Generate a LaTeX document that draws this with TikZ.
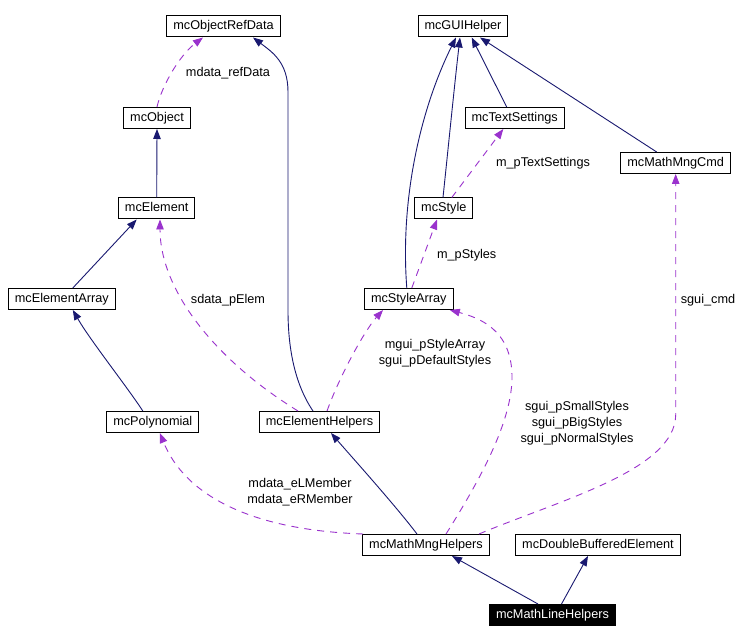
\documentclass[tikz,border=0pt]{standalone}
\usepackage{fontspec}
\setmainfont{Liberation Sans}
\usetikzlibrary{arrows.meta}
\definecolor{inh}{HTML}{191970}
\definecolor{use}{HTML}{9A32CD}
\begin{document}
\begin{tikzpicture}[x=1pt,y=-1pt,
  font=\fontsize{12.7}{16}\selectfont,
  cls/.style={draw=black,line width=1pt,fill=white,inner xsep=6.5pt,inner ysep=0pt,minimum height=21pt,text height=9.5pt,text depth=2.5pt},
  inhedge/.style={draw=inh,line width=0.9pt,-{Triangle[length=10pt,width=7.5pt]}},
  useedge/.style={draw=use,line width=0.9pt,dash pattern=on 7pt off 6pt,-{Triangle[length=10pt,width=7.5pt]}},
  lbl/.style={inner sep=0pt,align=center}]
\useasboundingbox (0,0) rectangle (748,644);
\fill[white] (0,0) rectangle (748,644);
% nodes
\node[cls] (ord) at (223.5,26.5) {mcObjectRefData};
\node[cls] (obj) at (157,118) {mcObject};
\node[cls] (elem) at (156.7,208.5) {mcElement};
\node[cls] (gui) at (463,26.5) {mcGUIHelper};
\node[cls] (ts) at (514.7,118) {mcTextSettings};
\node[cls] (cmd) at (675.7,163) {mcMathMngCmd};
\node[cls] (sty) at (443.8,208.5) {mcStyle};
\node[cls] (ea) at (61.8,299) {mcElementArray};
\node[cls] (poly) at (152.8,422) {mcPolynomial};
\node[cls] (eh) at (319.5,422) {mcElementHelpers};
\node[cls] (sa) at (408.8,299) {mcStyleArray};
\node[cls] (mmh) at (426,545) {mcMathMngHelpers};
\node[cls] (dbe) at (598,545) {mcDoubleBufferedElement};
\node[cls,fill=black,text=white] (mlh) at (552.5,615) {mcMathLineHelpers};
% inheritance edges
\draw[inhedge] (elem.north) -- (obj.south);
\draw[inhedge] ([xshift=11pt]ea.north) -- ([xshift=-20pt]elem.south);
\draw[inhedge] ([xshift=-10pt]poly.north) .. controls (128,388) and (90,340) .. ([xshift=11pt]ea.south);
\draw[inhedge] ([xshift=-6.5pt]eh.north) .. controls (292,380) and (288,340) .. (288,310) -- (288,92) .. controls (288,62) and (272,52) .. ([xshift=29.5pt]ord.south);
\draw[inhedge] ([xshift=-2pt]sa.north) .. controls (400,200) and (420,110) .. ([xshift=-7pt]gui.south);
\draw[inhedge] ([xshift=-0.8pt]sty.north) .. controls (448,150) and (455,80) .. ([xshift=-3pt]gui.south);
\draw[inhedge] ([xshift=-8pt]ts.north) -- ([xshift=8.7pt]gui.south);
\draw[inhedge] ([xshift=-19pt]cmd.north) -- ([xshift=17pt]gui.south);
\draw[inhedge] ([xshift=-9pt]mmh.north) .. controls (395,505) and (350,455) .. ([xshift=11.5pt]eh.south);
\draw[inhedge] ([xshift=-14.5pt]mlh.north) -- ([xshift=26pt]mmh.south);
\draw[inhedge] ([xshift=9pt]mlh.north) -- ([xshift=-10pt]dbe.south);
% usage edges
\draw[useedge] (obj.north) .. controls (162,85) and (180,55) .. ([xshift=-20.5pt]ord.south);
\draw[useedge] ([xshift=-21.5pt]eh.north) .. controls (215,360) and (160,290) .. ([xshift=3.3pt]elem.south);
\draw[useedge] ([xshift=7.5pt]eh.north) .. controls (340,375) and (365,330) .. ([xshift=-25.8pt]sa.south);
\draw[useedge] ([xshift=3pt]sa.north) -- ([xshift=-6.8pt]sty.south);
\draw[useedge] ([xshift=8pt]sty.north) -- ([xshift=-11.4pt]ts.south);
\draw[useedge] ([xshift=53pt]mmh.north) .. controls (560,500) and (675,470) .. (675.7,415) -- (cmd.south);
\draw[useedge] ([xshift=20pt]mmh.north) .. controls (480,480) and (513,420) .. (512,375) .. controls (511,330) and (480,318) .. ([xshift=41pt]sa.south);
\draw[useedge] ([xshift=-63pt]mmh.north) .. controls (250,530) and (185,495) .. ([xshift=7pt]poly.south);
% labels
\node[lbl] (l1) at (228,73) {mdata\_refData};
\node[lbl] (l2) at (228,300) {sdata\_pElem};
\node[lbl] (l3) at (466.7,255) {m\_pStyles};
\node[lbl] (l4) at (543,163) {m\_pTextSettings};
\node[lbl] (l5) at (708,300) {sgui\_cmd};
\node[lbl] (l6) at (435,353) {mgui\_pStyleArray\\sgui\_pDefaultStyles};
\node[lbl] (l7) at (577,423) {sgui\_pSmallStyles\\sgui\_pBigStyles\\sgui\_pNormalStyles};
\node[lbl] (l8) at (300,492) {mdata\_eLMember\\mdata\_eRMember};
\end{tikzpicture}
\end{document}
